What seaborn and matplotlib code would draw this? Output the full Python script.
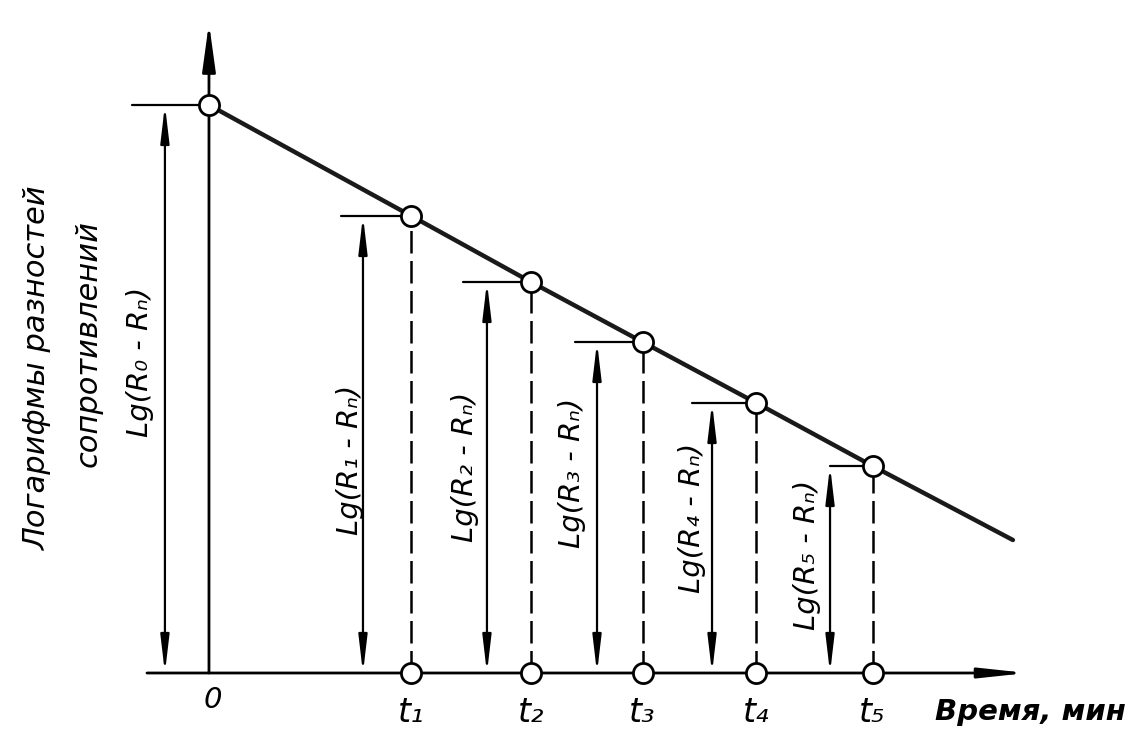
import numpy as np
import pandas as pd
import seaborn as sns
import matplotlib.pyplot as plt

# точки графика: время (усл. ед.) и логарифм разности сопротивлений
t_pts = [0.0, 1.76, 2.80, 3.77, 4.76, 5.77]
lg_pts = [5.68, 4.57, 3.91, 3.31, 2.70, 2.07]
line_end = (6.99, 1.33)          # конец прямой за последней точкой
t_ticks = ["0", "t₁", "t₂", "t₃", "t₄", "t₅"]
dim_labels = ["Lg(R₀ - Rₙ)", "Lg(R₁ - Rₙ)", "Lg(R₂ - Rₙ)",
              "Lg(R₃ - Rₙ)", "Lg(R₄ - Rₙ)", "Lg(R₅ - Rₙ)"]
ylabel_lines = ["Логарифмы разностей", "сопротивлений"]
xlabel = "Время, мин"

sns.set_theme(style="white")
plt.rcParams['font.family'] = ['Liberation Sans Narrow', 'DejaVu Sans']
plt.rcParams['text.color'] = 'black'

df = pd.DataFrame({'t': t_pts, 'lg': lg_pts})
df_line = pd.concat([df, pd.DataFrame({'t': [line_end[0]], 'lg': [line_end[1]]})],
                    ignore_index=True)

fig = plt.figure(figsize=(11.34, 7.43), dpi=100)
ax = fig.add_axes([0, 0, 1, 1])
ax.set_xlim(-1.817, 8.043)
ax.set_ylim(-0.70, 6.73)
ax.axis('off')

# оси со стрелками
ax.annotate('', xy=(0, 6.50), xytext=(0, 0),
            arrowprops=dict(arrowstyle='-|>,head_length=1.45,head_width=0.2',
                            lw=2, color='black', shrinkA=0, shrinkB=0, mutation_scale=20))
ax.annotate('', xy=(7.113, 0), xytext=(-0.539, 0),
            arrowprops=dict(arrowstyle='-|>,head_length=1.4,head_width=0.15',
                            lw=2, color='black', shrinkA=0, shrinkB=0, mutation_scale=20))

# прямая
sns.lineplot(data=df_line, x='t', y='lg', ax=ax, color='#1a1a1a', lw=3.2,
             sort=False, zorder=3)

# штриховые вертикали от точек к оси времени
ax.vlines(df['t'][1:], 0, df['lg'][1:], colors='black', lw=1.8,
          linestyles=(0, (9, 3)), zorder=2)

# размерные стрелки
arrow_x = [-0.383, 1.339, 2.417, 3.374, 4.374, 5.40]
overhang = [0.29, 0.19, 0.21, 0.19, 0.17, 0.0]
label_pos = [(-0.60, 3.11), (1.226, 2.13), (2.226, 2.06),
             (3.157, 2.00), (4.20, 1.55), (5.20, 1.18)]
for i, (tx, ly) in enumerate(zip(t_pts, lg_pts)):
    ax.annotate('', xy=(arrow_x[i], ly), xytext=(arrow_x[i], 0),
                arrowprops=dict(arrowstyle='<|-|>,head_length=1.1,head_width=0.13',
                                lw=1.6, color='black', shrinkA=0, shrinkB=0,
                                mutation_scale=20))
    ax.plot([arrow_x[i] - overhang[i], tx - 0.06], [ly, ly], color='black', lw=1.6)
    ax.text(label_pos[i][0], label_pos[i][1], dim_labels[i], rotation=90,
            ha='center', va='center', fontsize=21, style='italic')

# точки (на прямой и на оси времени)
sns.scatterplot(data=df, x='t', y='lg', ax=ax, s=210, marker='o',
                facecolor='white', edgecolor='black', linewidth=2, zorder=5)
sns.scatterplot(x=df['t'][1:], y=np.zeros(len(df) - 1), ax=ax, s=210, marker='o',
                facecolor='white', edgecolor='black', linewidth=2, zorder=5)

# подписи оси времени
ax.text(0.035, -0.27, t_ticks[0], ha='center', va='center', fontsize=21, style='italic')
for tx, lab in zip(t_pts[1:], t_ticks[1:]):
    ax.text(tx, -0.40, lab, ha='center', va='center', fontsize=24, style='italic')
ax.text(7.14, -0.39, xlabel, ha='center', va='center', fontsize=21,
        style='italic', fontweight='bold')

# подпись оси ординат
ax.text(-1.496, 3.05, ylabel_lines[0], rotation=90, ha='center', va='center',
        fontsize=22, style='italic')
ax.text(-1.052, 3.30, ylabel_lines[1], rotation=90, ha='center', va='center',
        fontsize=22, style='italic')

ax.set_xlabel('')
ax.set_ylabel('')
fig.savefig('out.png', dpi=100, facecolor='white')
